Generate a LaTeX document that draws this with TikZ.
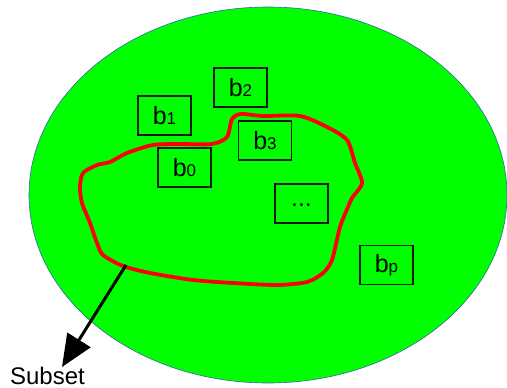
\documentclass[tikz,border=0pt]{standalone}
\usepackage{fontspec}
\setmainfont{Liberation Sans}
\usetikzlibrary{arrows.meta,shapes.geometric}
\definecolor{setgreen}{HTML}{00FF00}
\definecolor{setblue}{HTML}{3465A4}
\newcommand{\subdig}[1]{{\fontsize{17}{17}\selectfont #1}}
\begin{document}
\begin{tikzpicture}[x=1pt,y=-1pt,
  elem/.style={draw=black!90, line width=1.2pt, minimum width=53pt, minimum height=39pt, inner sep=0pt, font=\fontsize{25}{25}\selectfont, text=black},
  subsetline/.style={draw=red, line width=3.8pt, line join=round}]
\useasboundingbox (0,0) rectangle (507,388);
\node[ellipse, draw=setblue, line width=0.6pt, fill=setgreen, minimum width=478pt, minimum height=376pt, inner sep=0pt] (U) at (268,195) {};
\node[elem] (b2) at (240.5,87.5) {b\subdig{2}};
\node[elem] (b1) at (164.5,115.5) {b\subdig{1}};
\node[elem] (b3) at (265,140.5) {b\subdig{3}};
\node[elem] (b0) at (184.5,167.5) {b\subdig{0}};
\node[elem] (bd) at (301.5,203.5) {\raisebox{-5pt}{...}};
\node[elem] (bp) at (386.5,265) {b\subdig{p}};
\draw[subsetline] plot[smooth cycle, tension=0.45] coordinates {
 (212,144) (227,137) (232,119) (241,114) (263,116) (300,116) (327,127) (347,140)
 (355,163) (362,183) (352,198) (348,207) (340,227) (332,260) (323,273) (307,282)
 (277,285) (233,283) (193,280) (150,273) (123,266) (103,255) (97,243) (90,223)
 (82,203) (80,187) (83,173) (97,165) (110,162) (127,153) (153,145) (180,144)};
\coordinate (s) at (126,265);
\coordinate (tip) at (62,367);
\node[font=\fontsize{24}{24}\selectfont, anchor=base, inner sep=0pt] (sub) at (47.5,384) {Subset};
\draw[line width=3pt, -{Triangle[length=32pt, width=27pt]}] (s) -- (tip);
\end{tikzpicture}
\end{document}
